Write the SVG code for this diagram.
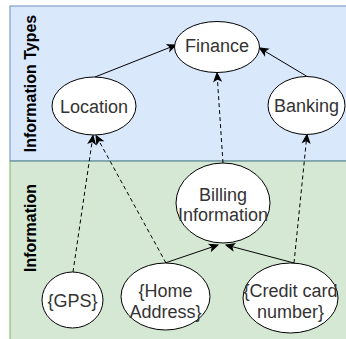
<svg xmlns="http://www.w3.org/2000/svg" width="346" height="339" viewBox="0 0 346 339">
  <style>
    .node ellipse { fill: #ffffff; stroke: #000000; stroke-width: 1; }
    .node text { font-family: "Liberation Sans", Arial, sans-serif; font-size: 18px; fill: #333333; text-anchor: middle; }
    .lane-label { font-family: "Liberation Sans", Arial, sans-serif; font-size: 16px; font-weight: bold; fill: #000000; text-anchor: middle; }
    .edge { fill: none; stroke: #000000; stroke-width: 1; marker-end: url(#arrow); }
    .dashed { stroke-dasharray: 4 3; }
  </style>
  <defs>
    <marker id="arrow" markerUnits="userSpaceOnUse" markerWidth="12" markerHeight="12" viewBox="-10 -6 12 12" refX="0" refY="0" orient="auto">
      <path d="M0,0 L-8,-3.5 L-6,0 L-8,3.5 Z" fill="#000000" stroke="#000000" stroke-width="1" stroke-linejoin="miter"/>
    </marker>
  </defs>

  <!-- swimlanes -->
  <g id="lane-types">
    <rect x="10" y="6" width="346" height="155" fill="#dae8fc" stroke="#6c8ebf"/>
    <text class="lane-label" transform="translate(36,83.5) rotate(-90)">Information Types</text>
  </g>
  <g id="lane-information">
    <rect x="10" y="161" width="346" height="190" fill="#d5e8d4" stroke="#82b366"/>
    <line x1="10" y1="161" x2="356" y2="161" stroke="#6c8ebf"/>
    <text class="lane-label" transform="translate(36,228) rotate(-90)">Information</text>
  </g>

  <!-- connectors -->
  <g id="connectors">
    <path class="edge" d="M95,77 L176,45"/>
    <path class="edge" d="M308,77 L259.5,48"/>
    <path class="edge dashed" d="M223,163 L217,73"/>
    <path class="edge dashed" d="M73,272 L93,135.5"/>
    <path class="edge dashed" d="M166,263 L96,135.5"/>
    <path class="edge" d="M165,263 L218,245"/>
    <path class="edge" d="M294,263 L226,245"/>
    <path class="edge dashed" d="M294,263 L307,134.5"/>
  </g>

  <!-- nodes -->
  <g id="finance" class="node">
    <ellipse cx="217" cy="47" rx="42.5" ry="25.5"/>
    <text x="217" y="51.5">Finance</text>
  </g>
  <g id="location" class="node">
    <ellipse cx="94" cy="106" rx="42" ry="29"/>
    <text x="94" y="112.5">Location</text>
  </g>
  <g id="banking" class="node">
    <ellipse cx="306.5" cy="105.5" rx="38.5" ry="29"/>
    <text x="306.5" y="112">Banking</text>
  </g>
  <g id="billing" class="node">
    <ellipse cx="223" cy="203" rx="47" ry="40"/>
    <text x="223" y="201">Billing</text>
    <text x="223" y="221">Information</text>
  </g>
  <g id="gps" class="node">
    <ellipse cx="72.5" cy="300" rx="30.5" ry="28"/>
    <text x="72.5" y="306.5">{GPS}</text>
  </g>
  <g id="home-address" class="node">
    <ellipse cx="165.5" cy="296.5" rx="44.5" ry="33.5"/>
    <text x="165.5" y="297">{Home</text>
    <text x="165.5" y="317.5">Address}</text>
  </g>
  <g id="credit-card" class="node">
    <ellipse cx="290.5" cy="298" rx="47.5" ry="35"/>
    <text x="290.5" y="297">{Credit card</text>
    <text x="290.5" y="317.5">number}</text>
  </g>
</svg>
